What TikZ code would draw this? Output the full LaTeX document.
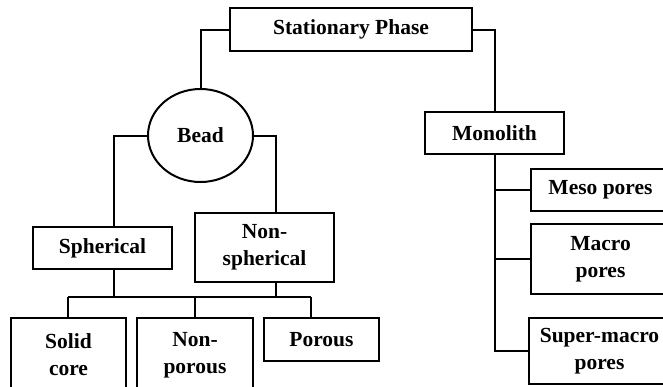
\documentclass[tikz,border=0pt]{standalone}
\usepackage{fontspec}
\setmainfont{Liberation Serif}
\usetikzlibrary{calc,shapes.geometric}
\begin{document}
\begin{tikzpicture}[x=1pt,y=-1pt,line width=2pt,
  box/.style={draw,rectangle,inner sep=0pt,align=center,font=\bfseries\fontsize{21.5}{27}\selectfont},
  oval/.style={draw,ellipse,inner sep=0pt,font=\bfseries\fontsize{21.5}{27}\selectfont}]
\useasboundingbox (0,0) rectangle (663,386);
\clip (0,0) rectangle (663,386);
\node[box,minimum width=242pt,minimum height=43pt] (sp) at (351,29.5) {Stationary Phase};
\node[oval,minimum width=105pt,minimum height=93pt] (bead) at (200.5,135.5) {Bead};
\node[box,minimum width=139pt,minimum height=42pt] (mono) at (494.5,133) {Monolith};
\node[box,minimum width=139pt,minimum height=42pt] (meso) at (600.5,190) {Meso pores};
\node[box,minimum width=139pt,minimum height=70pt] (macro) at (600.5,259) {Macro\\pores};
\node[box,minimum width=141pt,minimum height=66pt] (super) at (599.5,351) {Super-macro\\pores};
\node[box,minimum width=139pt,minimum height=42pt] (sph) at (102.5,248) {Spherical};
\node[box,minimum width=139pt,minimum height=69pt] (nsph) at (264.5,247.5) {Non-\\spherical};
\node[box,minimum width=115pt,minimum height=74pt] (solid) at (68.5,355) {Solid\\core};
\node[box,minimum width=116pt,minimum height=74pt] (npor) at (195,355) {Non-\\porous};
\node[box,minimum width=115pt,minimum height=43pt] (por) at (321.5,339.5) {Porous};
\coordinate (busL) at (68,297);
\coordinate (busR) at (311,297);
% top level
\draw (sp.west) -| (bead.north);
\draw (sp.east) -| (mono.north);
% bead
\draw (bead.west) -| ($(sph.north)+(11.5,0)$);
\draw (bead.east) -| ($(nsph.north)+(11.5,0)$);
\draw ($(sph.south)+(11.5,0)$) |- (busL);
\draw ($(nsph.south)+(11.5,0)$) |- (busR);
\draw (busL) -- (busR);
\draw (busL) -- (busL |- solid.north);
\draw (npor.north |- busL) -- (npor.north);
\draw (busR) -- (busR |- por.north);
% monolith
\draw (mono.south) |- (super.west);
\draw (mono.south |- meso.west) -- (meso.west);
\draw (mono.south |- macro.west) -- (macro.west);
\end{tikzpicture}
\end{document}
